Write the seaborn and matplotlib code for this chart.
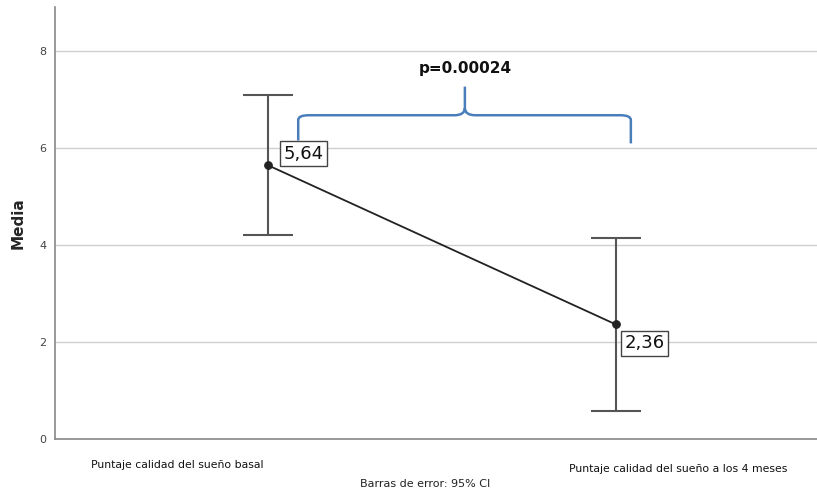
import matplotlib
matplotlib.use("Agg")
import matplotlib.pyplot as plt
from matplotlib.path import Path
from matplotlib.patches import PathPatch
import seaborn as sns
import pandas as pd

# Means and 95% CI limits of the sleep-quality score
categories = ["Puntaje calidad del sueño basal", "Puntaje calidad del sueño a los 4 meses"]
means = [5.64, 2.36]
ci_low = [4.20, 0.58]
ci_high = [7.09, 4.14]
mean_labels = ["5,64", "2,36"]
p_text = "p=0.00024"
y_ticks = [0, 2, 4, 6, 8]

sns.set_theme(style="white")
plt.rcParams["font.family"] = ["DejaVu Sans"]

fig = plt.figure(figsize=(8.17, 4.93), dpi=100)
ax = fig.add_axes([55 / 817, 54 / 493, 762 / 817, 432 / 493])

df = pd.DataFrame({"pos": range(len(categories)), "media": means})

# grid
for t in y_ticks[1:]:
    ax.axhline(t, color="#d0d0d0", lw=1.0, zorder=0)

# error bars
err = [[m - lo for m, lo in zip(means, ci_low)], [hi - m for m, hi in zip(means, ci_high)]]
ax.errorbar(df["pos"], df["media"], yerr=err, fmt="none", ecolor="#555555",
            elinewidth=1.5, capsize=18, capthick=1.5, zorder=2)

# means connected by a line
sns.lineplot(data=df, x="pos", y="media", ax=ax, color="#222222", lw=1.3,
             marker="o", markersize=5.5, markeredgecolor="#222222", zorder=3)

# value labels
offsets = [(0.045, 0.05), (0.025, -0.2)]
for i, (m, lab) in enumerate(zip(means, mean_labels)):
    ax.text(i + offsets[i][0], m + offsets[i][1], lab, fontsize=13,
            color="#111111", ha="left", va="bottom" if i == 0 else "top",
            bbox=dict(boxstyle="square,pad=0.2", fc="white", ec="#444444", lw=1.0), zorder=4)

ax.set_xlim(-0.612, 1.578)
ax.set_ylim(0, 8.9)
ax.set_yticks(y_ticks)
ax.set_yticklabels([str(t) for t in y_ticks], fontsize=8, color="#444444")
ax.tick_params(axis="y", length=0, pad=6)
ax.set_xticks([])
ax.set_xlabel("")
ax.set_ylabel("Media", fontsize=11, fontweight="bold", labelpad=10)

for side in ["top", "right"]:
    ax.spines[side].set_visible(False)
for side in ["left", "bottom"]:
    ax.spines[side].set_color("#888888")
    ax.spines[side].set_linewidth(1.2)

# category labels
ax.text(0.161, -0.06, categories[0], transform=ax.transAxes, ha="center", va="center",
        fontsize=7.8, color="#111111")
ax.text(0.818, -0.07, categories[1], transform=ax.transAxes, ha="center", va="center",
        fontsize=7.8, color="#111111")
fig.text(425 / 817, 1 - 484 / 493, "Barras de error: 95% CI", ha="center", va="center",
         fontsize=8, color="#222222")

# significance brace
xl, xm, xr = 0.087, 0.566, 1.043
yb, yt, yl_end, yr_end = 6.67, 7.26, 6.15, 6.09
r = 0.03
verts = [
    (xl, yl_end), (xl, yb - 0.1), (xl, yb), (xl + r, yb),
    (xm - r, yb), (xm, yb), (xm, yb + 0.15),
    (xm, yt),
    (xm, yb + 0.15), (xm, yb), (xm + r, yb),
    (xr - r, yb), (xr, yb), (xr, yb - 0.1),
    (xr, yr_end),
]
codes = [Path.MOVETO, Path.LINETO, Path.CURVE3, Path.CURVE3,
         Path.LINETO, Path.CURVE3, Path.CURVE3,
         Path.LINETO,
         Path.MOVETO, Path.CURVE3, Path.CURVE3,
         Path.LINETO, Path.CURVE3, Path.CURVE3,
         Path.LINETO]
ax.add_patch(PathPatch(Path(verts, codes), fc="none", ec="#4a7ebb", lw=1.8, zorder=3,
                       clip_on=False))
ax.text(xm, 7.63, p_text, ha="center", va="center", fontsize=11, fontweight="bold",
        color="#111111")

fig.savefig("out.png", dpi=100)
